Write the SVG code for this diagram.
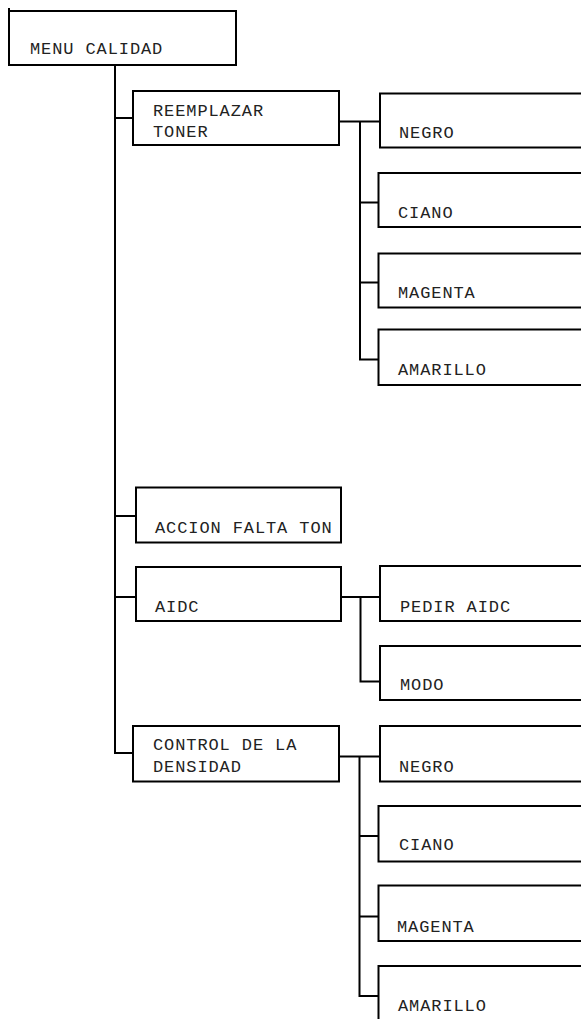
<svg xmlns="http://www.w3.org/2000/svg" width="581" height="1019" viewBox="0 0 581 1019">
<style>
.b{fill:#fff;stroke:#000;stroke-width:2}
.c{fill:none;stroke:#000;stroke-width:2}
text{font-family:"Liberation Mono","Courier New",monospace;font-size:17px;letter-spacing:0.9px;fill:#222}
</style>
<rect width="581" height="1019" fill="#fff"/>
<g id="connectors">
<path class="c" d="M115 65V754M115 118H133M115 516H136M115 597H136M114 753H133"/>
<path class="c" d="M339 121.5H380M360 121.5V359.5H380M360 202.5H379M360 282.5H379"/>
<path class="c" d="M341 597H380M360.5 597V681.5H380"/>
<path class="c" d="M339 756.5H380M359.5 756.5V996H379M359.5 836H379M359.5 916.5H379"/>
</g>
<g id="menu-calidad"><rect class="b" x="9" y="11" width="227" height="54"/><path class="c" d="M9 8V11"/><text x="30" y="54">MENU CALIDAD</text></g>
<g id="reemplazar-toner"><rect class="b" x="133" y="91" width="206" height="54"/><text x="153" y="116">REEMPLAZAR</text><text x="153" y="137">TONER</text></g>
<g id="negro1"><rect class="b" x="380" y="93.5" width="230" height="54"/><text x="399" y="138">NEGRO</text></g>
<g id="ciano1"><rect class="b" x="378.5" y="173" width="230" height="54"/><text x="398" y="218">CIANO</text></g>
<g id="magenta1"><rect class="b" x="378.5" y="253.5" width="230" height="54"/><text x="398" y="297.5">MAGENTA</text></g>
<g id="amarillo1"><rect class="b" x="378.5" y="329.5" width="230" height="55.5"/><text x="398" y="375">AMARILLO</text></g>
<g id="accion-falta-ton"><rect class="b" x="136" y="487.5" width="205" height="55"/><text x="155" y="533">ACCION FALTA TON</text></g>
<g id="aidc"><rect class="b" x="136" y="567" width="205" height="54"/><text x="155" y="612">AIDC</text></g>
<g id="pedir-aidc"><rect class="b" x="380" y="566" width="230" height="55"/><text x="400" y="612">PEDIR AIDC</text></g>
<g id="modo"><rect class="b" x="380" y="646" width="230" height="54"/><text x="400" y="690">MODO</text></g>
<g id="control-densidad"><rect class="b" x="133" y="726" width="206" height="55.5"/><text x="153" y="749.5">CONTROL DE LA</text><text x="153" y="771.5">DENSIDAD</text></g>
<g id="negro2"><rect class="b" x="380" y="726" width="230" height="55.5"/><text x="399" y="771.5">NEGRO</text></g>
<g id="ciano2"><rect class="b" x="378.5" y="806" width="230" height="55.5"/><text x="399" y="850">CIANO</text></g>
<g id="magenta2"><rect class="b" x="378.5" y="885.5" width="230" height="55.5"/><text x="397" y="931.5">MAGENTA</text></g>
<g id="amarillo2"><rect class="b" x="378.5" y="966" width="230" height="80"/><text x="398" y="1010.5">AMARILLO</text></g>
</svg>
